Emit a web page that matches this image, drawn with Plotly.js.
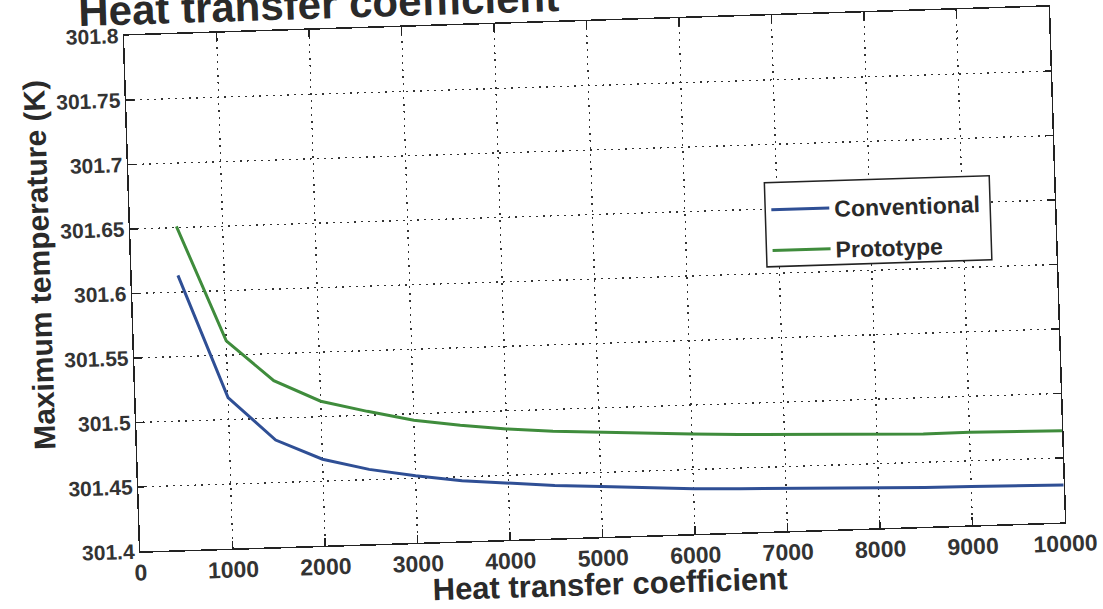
<!DOCTYPE html>
<html>
<head>
<meta charset="utf-8">
<script src="https://cdn.plot.ly/plotly-3.0.1.min.js"></script>
<style>
html,body{margin:0;padding:0;background:#fff;overflow:hidden;width:1103px;height:609px;}
#plot{position:absolute;left:-40px;top:-40px;width:1183px;height:689px;transform:rotate(-1.8deg);transform-origin:635px 319px;}
</style>
</head>
<body>
<div id="plot"></div>
<script>
// Heat transfer coefficient (x)
var hValues = [500,1000,1500,2000,2500,3000,3500,4000,4500,5000,5500,6000,6500,7000,7500,8000,8500,9000,9500,10000];
// Maximum temperature (K)
var conventional = [301.613,301.517,301.483,301.467,301.458,301.452,301.447,301.444,301.441,301.439,301.437,301.435,301.434,301.433,301.432,301.431,301.4305,301.430,301.4295,301.429];
var prototype = [301.651,301.561,301.529,301.512,301.503,301.495,301.490,301.486,301.483,301.481,301.479,301.4775,301.476,301.475,301.474,301.4725,301.472,301.4722,301.4715,301.471];
var seriesNames = ["Conventional","Prototype"];
var xTickVals = [0,1000,2000,3000,4000,5000,6000,7000,8000,9000,10000];
var xTickText = ["0","1000","2000","3000","4000","5000","6000","7000","8000","9000","10000"];
var yTickVals = [301.4,301.45,301.5,301.55,301.6,301.65,301.7,301.75,301.8];
var yTickText = ["301.4","301.45","301.5","301.55","301.6","301.65","301.7","301.75","301.8"];
var titleText = "Heat transfer coefficient";
var xTitle = "Heat transfer coefficient";
var yTitle = "Maximum temperature (K)";

var FONT = "Liberation Sans, Arial, sans-serif";
var traces = [
  {x:hValues, y:conventional, name:seriesNames[0], type:"scatter", mode:"lines",
   line:{color:"#2f4f95", width:3}, legendgroup:"a"},
  {x:hValues, y:prototype, name:seriesNames[1], type:"scatter", mode:"lines",
   line:{color:"#3f8c3c", width:3}, legendgroup:"b"}
];
var axisCommon = {
  showline:true, linecolor:"#222", linewidth:1.5, mirror:"ticks",
  ticks:"inside", ticklen:8, tickwidth:1.5, tickcolor:"#222",
  showgrid:true, gridcolor:"#333", gridwidth:1.3, griddash:"2px,5px",
  zeroline:false, fixedrange:true
};
var layout = {
  width:1183, height:689,
  margin:{l:172, r:86, t:61, b:112},
  paper_bgcolor:"#fff", plot_bgcolor:"#fff",
  showlegend:true,
  legend:{x:0.688, y:0.665, xanchor:"left", yanchor:"top", bgcolor:"rgba(0,0,0,0)",
          borderwidth:0, tracegroupgap:8, itemwidth:58,
          font:{family:FONT, size:23, color:"#2a2a2a", weight:700}},
  xaxis:Object.assign({}, axisCommon, {range:[0,10000], tickmode:"array", tickvals:xTickVals, ticktext:xTickText,
          tickfont:{family:FONT, size:23, color:"#333", weight:700}}),
  yaxis:Object.assign({}, axisCommon, {range:[301.4,301.8], tickmode:"array", tickvals:yTickVals, ticktext:yTickText,
          tickfont:{family:FONT, size:21, color:"#333", weight:700}}),
  shapes:[
    {type:"rect", xref:"paper", yref:"paper", x0:0.6868, x1:0.93, y0:0.513, y1:0.676,
     fillcolor:"#fff", line:{color:"#222", width:1.5}, layer:"above"}
  ],
  annotations:[
    {text:titleText, xref:"paper", yref:"paper", x:0.2114, y:1.05, xanchor:"center", yanchor:"middle",
     showarrow:false, font:{family:FONT, size:42, color:"#2a2a2a", weight:700}},
    {text:xTitle, xref:"paper", yref:"paper", x:0.5065, y:-0.092, xanchor:"center", yanchor:"middle",
     showarrow:false, font:{family:FONT, size:31, color:"#2a2a2a", weight:700}},
    {text:yTitle, xref:"paper", yref:"paper", x:-0.1, y:0.56, xanchor:"center", yanchor:"middle",
     textangle:-90, showarrow:false, font:{family:FONT, size:30, color:"#2a2a2a", weight:700}}
  ]
};
Plotly.newPlot("plot", traces, layout, {displayModeBar:false, staticPlot:true});
</script>
</body>
</html>
